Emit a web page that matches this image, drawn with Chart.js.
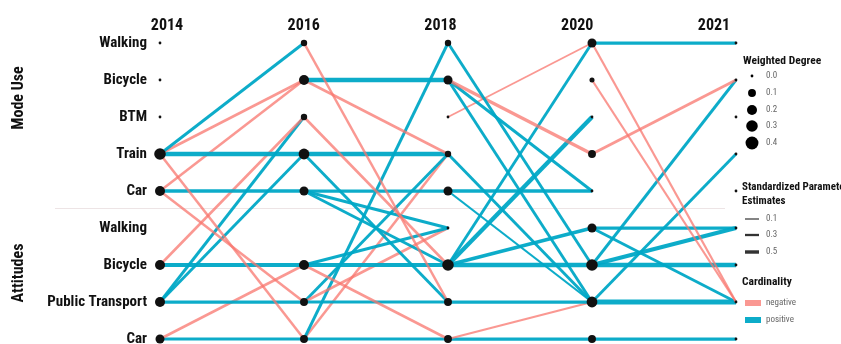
<!DOCTYPE html>
<html>
<head>
<meta charset="utf-8">
<script src="https://cdn.jsdelivr.net/npm/chart.js@4.4.1/dist/chart.umd.min.js"></script>
<style>
  html, body { margin: 0; padding: 0; background: #fff; overflow: hidden; }
  canvas { display: block; }
</style>
</head>
<body>
<canvas id="network" width="841" height="344" style="width:841px;height:344px"></canvas>
<script>
// waves and variables
const years = ['2014', '2016', '2018', '2020', '2021'];
const rowLabels = ['Walking', 'Bicycle', 'BTM', 'Train', 'Car', 'Walking', 'Bicycle', 'Public Transport', 'Car'];
const groupTitles = ['Mode Use', 'Attitudes'];

// weighted degree of every node, per wave (null = no node)
const degree2014 = [0, 0, 0, 0.3, 0.2, null, 0.2, 0.2, 0.15];
const degree2016 = [0.05, 0.2, 0.05, 0.25, 0.15, null, 0.2, 0.1, 0.1];
const degree2018 = [0.05, 0.15, 0, 0.05, 0.15, 0, 0.3, 0.1, 0.1];
const degree2020 = [0.15, 0.02, 0, 0.1, 0, 0.15, 0.3, 0.25, 0.1];
const degree2021 = [0, 0, 0, 0, 0, 0, 0, 0, 0];

// edges to the next wave: [from row, to row, standardized estimate]
const edges2014 = [[3,0,0.3],[3,1,-0.25],[3,3,0.55],[3,8,-0.25],[4,1,-0.25],[4,4,0.4],[4,7,-0.25],
  [6,2,-0.25],[6,6,0.45],[7,2,0.3],[7,3,0.3],[7,7,0.35],[8,6,-0.25],[8,8,0.3]];
const edges2016 = [[0,7,-0.25],[1,1,0.5],[1,3,-0.25],[2,6,-0.25],[3,3,0.5],[3,7,0.3],[4,4,0.35],
  [4,5,0.3],[4,6,0.3],[6,5,0.35],[6,6,0.45],[6,8,-0.25],[7,7,0.3],[7,5,-0.25],[7,3,0.3],
  [8,0,0.3],[8,3,-0.25],[8,8,0.3]];
const edges2018 = [[0,6,0.3],[1,3,-0.35],[1,4,0.3],[1,7,0.3],[2,0,-0.15],[3,7,0.3],[4,4,0.4],
  [4,7,0.2],[6,0,0.3],[6,2,0.5],[6,5,0.4],[6,6,0.5],[7,7,0.35],[8,7,-0.2],[8,8,0.35]];
const edges2020 = [[0,0,0.35],[0,7,-0.2],[1,7,-0.2],[3,1,-0.3],[5,5,0.35],[5,7,0.3],[6,1,0.3],
  [6,5,0.45],[6,6,0.5],[7,3,0.3],[7,7,0.6],[8,8,0.35]];

// legend entries
const degreeLegend = [0.0, 0.1, 0.2, 0.3, 0.4];
const estimateLegend = [0.1, 0.3, 0.5];
const cardinalityLegend = ['negative', 'positive'];

const pink = 'rgba(248,118,109,0.75)';
const blue = 'rgba(0,168,198,0.95)';
const font = '"Liberation Sans Narrow", "Roboto Condensed", Roboto, sans-serif';

function nodeRadius(d) { return 1.4 + 8 * Math.sqrt(d); }
function edgeWidth(e) { return 0.8 + 7 * Math.abs(e); }

const degrees = [degree2014, degree2016, degree2018, degree2020, degree2021];
const edges = [edges2014, edges2016, edges2018, edges2020];

let nodePoints = [], nodeSizes = [];
degrees.forEach((col, c) => col.forEach((d, r) => {
  if (d !== null) { nodePoints.push({x: c, y: r}); nodeSizes.push(nodeRadius(d)); }
}));

let datasets = [{
  label: 'nodes', data: nodePoints, pointRadius: nodeSizes, pointHoverRadius: nodeSizes,
  backgroundColor: '#111', borderWidth: 0, order: 0, clip: false, xAxisID: 'x', yAxisID: 'y'
}];
edges.forEach((list, c) => list.forEach(([a, b, e]) => {
  datasets.push({
    data: [{x: c, y: a}, {x: c + 1, y: b}], showLine: true,
    borderColor: e < 0 ? pink : blue, borderWidth: edgeWidth(e),
    pointRadius: 0, order: 1, clip: false, xAxisID: 'x', yAxisID: 'y'
  });
}));

const decorations = {
  id: 'decorations',
  beforeDatasetsDraw(chart) {
    const ctx = chart.ctx;
    ctx.save();
    ctx.strokeStyle = '#ede4e5';
    ctx.lineWidth = 1;
    ctx.beginPath();
    ctx.moveTo(55, 208.5);
    ctx.lineTo(725, 208.5);
    ctx.stroke();
    ctx.restore();
  },
  afterDraw(chart) {
    const ctx = chart.ctx;
    ctx.save();
    // group titles
    ctx.fillStyle = '#111';
    ctx.font = 'bold 16px ' + font;
    ctx.textAlign = 'center';
    ctx.textBaseline = 'middle';
    [[groupTitles[0], 98], [groupTitles[1], 273]].forEach(([t, y]) => {
      ctx.save();
      ctx.translate(19, y);
      ctx.rotate(-Math.PI / 2);
      ctx.fillText(t, 0, 0);
      ctx.restore();
    });

    // legend: weighted degree
    ctx.textAlign = 'left';
    ctx.font = 'bold 11.5px ' + font;
    ctx.fillText('Weighted Degree', 743, 61);
    const degY = [76, 93, 110, 126, 143];
    degreeLegend.forEach((d, i) => {
      ctx.fillStyle = '#000';
      ctx.beginPath();
      ctx.arc(752, degY[i], nodeRadius(d), 0, Math.PI * 2);
      ctx.fill();
      ctx.fillStyle = '#666';
      ctx.font = '9px ' + font;
      ctx.fillText(d.toFixed(1), 766, degY[i]);
    });

    // legend: estimates
    ctx.fillStyle = '#111';
    ctx.font = 'bold 11px ' + font;
    ctx.fillText('Standardized Parameter', 742, 187);
    ctx.fillText('Estimates', 742, 201);
    const estY = [219, 235, 252];
    estimateLegend.forEach((e, i) => {
      ctx.strokeStyle = '#333';
      ctx.lineWidth = edgeWidth(e) * 0.8;
      ctx.beginPath();
      ctx.moveTo(745, estY[i]);
      ctx.lineTo(759, estY[i]);
      ctx.stroke();
      ctx.fillStyle = '#666';
      ctx.font = '9px ' + font;
      ctx.fillText(e.toFixed(1), 766, estY[i]);
    });

    // legend: cardinality
    ctx.fillStyle = '#111';
    ctx.font = 'bold 11.5px ' + font;
    ctx.fillText('Cardinality', 742, 282);
    const cardY = [303, 320];
    cardinalityLegend.forEach((c, i) => {
      ctx.fillStyle = i === 0 ? pink : blue;
      ctx.fillRect(745, cardY[i] - 3, 16, 6);
      ctx.fillStyle = '#666';
      ctx.font = '9px ' + font;
      ctx.fillText(c, 766, cardY[i]);
    });
    ctx.restore();
  }
};

new Chart(document.getElementById('network'), {
  type: 'scatter',
  data: { datasets: datasets },
  options: {
    responsive: false,
    animation: false,
    layout: { autoPadding: false, padding: { left: 0, right: 105, top: 0, bottom: 5 } },
    plugins: { legend: { display: false }, tooltip: { enabled: false } },
    scales: {
      x: {
        type: 'linear', min: 0, max: 4, display: false,
        afterFit: axis => { axis.height = 0; }
      },
      xYears: {
        type: 'linear', axis: 'x', position: 'top', min: -0.051, max: 4.161,
        grid: { display: false, drawTicks: false }, border: { display: false },
        afterBuildTicks: axis => { axis.ticks = years.map((y, i) => ({value: i})); },
        afterFit: axis => { axis.height = 43; axis.paddingLeft = 0; axis.paddingRight = 0; },
        ticks: {
          padding: 7, color: '#111', font: { family: font, size: 16, weight: 'bold' },
          maxRotation: 0, autoSkip: false,
          callback: v => years[v]
        }
      },
      y: {
        type: 'linear', min: 0, max: 8, reverse: true,
        grid: { display: false, drawTicks: false }, border: { display: false },
        afterBuildTicks: axis => { axis.ticks = rowLabels.map((l, i) => ({value: i})); },
        afterFit: axis => { axis.width = 160; axis.paddingTop = 0; axis.paddingBottom = 0; },
        ticks: {
          padding: 13, color: '#111', font: { family: font, size: 15, weight: 'bold' },
          autoSkip: false,
          callback: v => rowLabels[v]
        }
      }
    }
  },
  plugins: [decorations]
});
</script>
</body>
</html>
